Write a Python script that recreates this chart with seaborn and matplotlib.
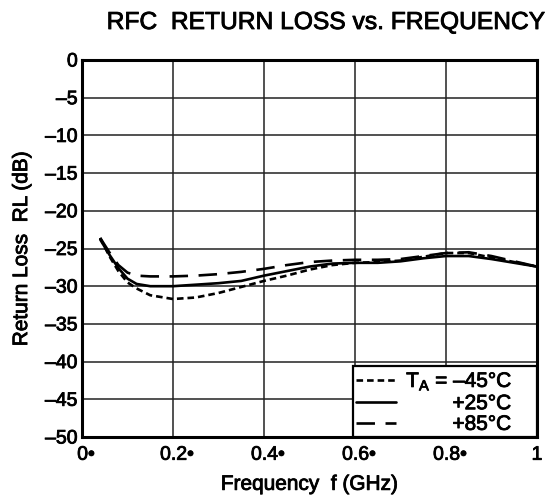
import numpy as np
import pandas as pd
import matplotlib
matplotlib.use('Agg')
import matplotlib.pyplot as plt
import matplotlib.patheffects as pe
import matplotlib.transforms as mtransforms
import seaborn as sns

# %% data
freq = [0.04, 0.06, 0.08, 0.10, 0.12, 0.15, 0.20, 0.25, 0.30, 0.35, 0.40, 0.45,
        0.50, 0.55, 0.60, 0.65, 0.70, 0.75, 0.80, 0.85, 0.90, 0.95, 1.00]
rl_m45 = [-23.6, -26.0, -28.0, -29.5, -30.3, -31.2, -31.7, -31.5, -30.9, -30.1, -29.3, -28.6,
          -27.8, -27.2, -26.9, -26.8, -26.6, -26.1, -25.6, -25.6, -26.2, -26.8, -27.4]
rl_p25 = [-23.8, -25.8, -27.6, -29.0, -29.7, -30.0, -30.0, -29.8, -29.6, -29.3, -28.6, -28.0,
          -27.4, -27.0, -26.9, -26.9, -26.7, -26.3, -26.0, -26.0, -26.4, -26.9, -27.4]
rl_p85 = [-23.6, -25.5, -27.2, -28.2, -28.6, -28.7, -28.7, -28.6, -28.4, -28.1, -27.7, -27.2,
          -26.8, -26.6, -26.5, -26.5, -26.4, -26.0, -25.6, -25.5, -26.0, -26.7, -27.4]
labels = ['T$_\\mathregular{A}$ = \u201345\u00b0C    ', '        +25\u00b0C    ', '        +85\u00b0C    ']

xticks = [0, 0.2, 0.4, 0.6, 0.8, 1.0]
xtick_labels = ['0\u2022', '0.2\u2022', '0.4\u2022', '0.6\u2022', '0.8\u2022', '1']
yticks = list(range(0, -55, -5))
ytick_labels = ['0'] + ['\u2013%d' % (-v) for v in yticks[1:]]

# %% plot
sns.set_style('white')
plt.rcParams['font.family'] = ['Liberation Sans', 'DejaVu Sans']
plt.rcParams['mathtext.fontset'] = 'custom'
plt.rcParams['mathtext.rm'] = 'Liberation Sans'
plt.rcParams['text.color'] = 'black'
plt.rcParams['xtick.color'] = 'black'
plt.rcParams['ytick.color'] = 'black'
plt.rcParams['axes.labelcolor'] = 'black'

heavy = [pe.withStroke(linewidth=0.6, foreground='black')]

fig = plt.figure(figsize=(5.48, 5.01), dpi=100)
ax = fig.add_axes([82 / 548, 1 - 437 / 501, 455 / 548, 377 / 501])

styles = [(0, (2.5, 1.5)), '-', (0, (7, 4))]
for vals, lab, ls in zip([rl_m45, rl_p25, rl_p85], labels, styles):
    sns.lineplot(x=freq, y=vals, ax=ax, color='black', linewidth=1.9,
                 linestyle=ls, label=lab)

ax.set_xlim(0, 1)
ax.set_ylim(-50, 0)
ax.set_xticks(xticks)
ax.set_xticklabels(xtick_labels, fontsize=14)
ax.set_yticks(yticks)
ax.set_yticklabels(ytick_labels, fontsize=14)
ax.tick_params(length=0, pad=3)
ax.tick_params(axis='x', pad=7)
ax.grid(True, color='#222222', linewidth=1.1)
for s in ax.spines.values():
    s.set_color('black')
    s.set_linewidth(2.2)

# numbers sit on the grid line, bullet hangs to the right
shift = mtransforms.ScaledTranslation(4 / 100, 0, fig.dpi_scale_trans)
for t in ax.get_xticklabels()[:-1]:
    t.set_transform(t.get_transform() + shift)

ax.set_xlabel('Frequency  f (GHz)', fontsize=15, labelpad=8)
ax.set_ylabel('Return Loss  RL (dB)', fontsize=15, labelpad=10)
fig.text(326 / 548, 1 - 22 / 501, 'RFC  RETURN LOSS vs. FREQUENCY', fontsize=17.7,
         ha='center', va='center')

leg = ax.legend(loc='lower right', frameon=True, fancybox=False, edgecolor='black',
                borderaxespad=0, fontsize=15, handlelength=1.9, handletextpad=0.5,
                labelspacing=0.08, borderpad=0.15, framealpha=1)
leg.get_frame().set_linewidth(1.6)

for t in fig.findobj(matplotlib.text.Text):
    t.set_path_effects(heavy)

fig.savefig('out.png', dpi=100)
